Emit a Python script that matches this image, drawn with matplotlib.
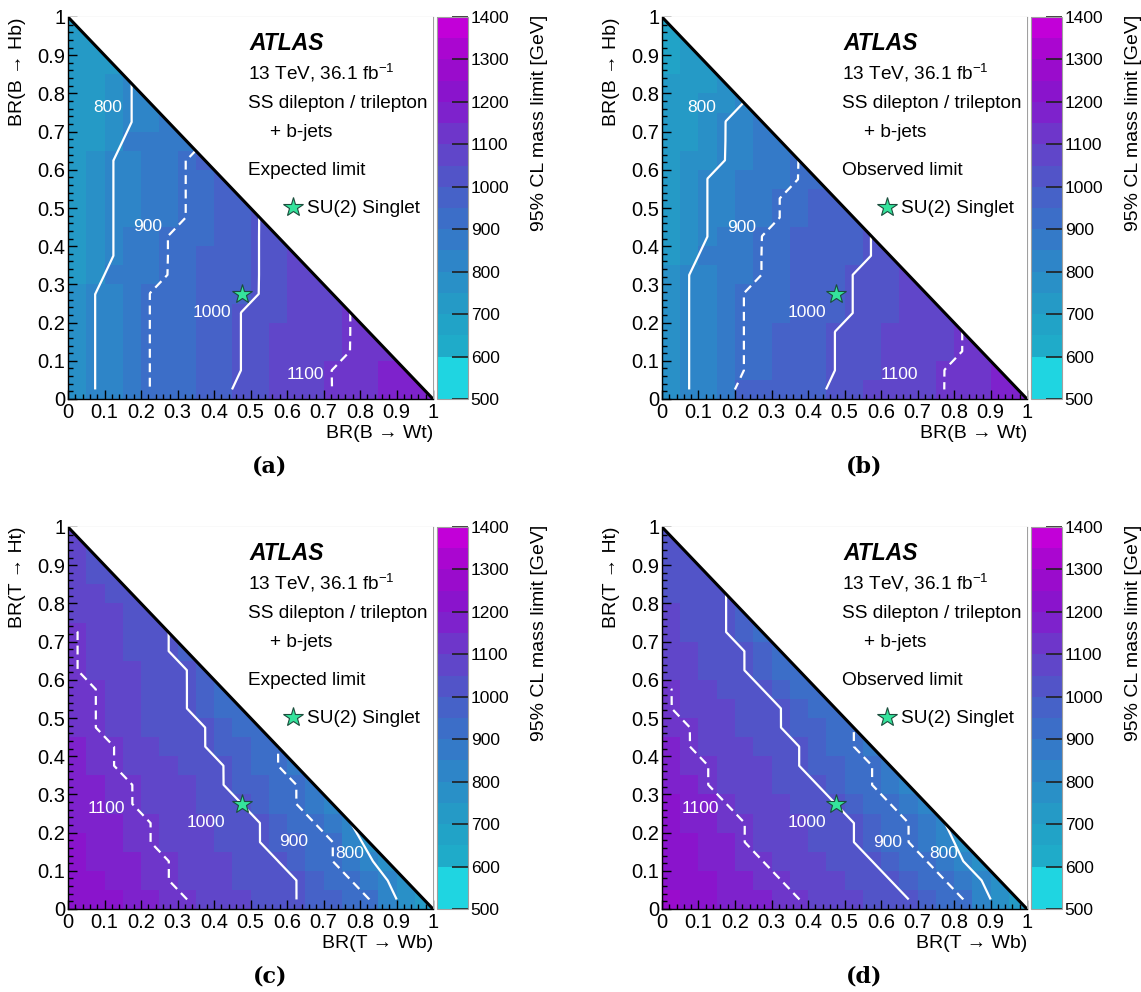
import numpy as np
import matplotlib
matplotlib.use('Agg')
import matplotlib.pyplot as plt
from matplotlib.colors import ListedColormap, BoundaryNorm
from matplotlib.ticker import MultipleLocator, FuncFormatter

plt.rcParams['font.family'] = ['Liberation Sans', 'DejaVu Sans']
plt.rcParams['mathtext.fontset'] = 'custom'
plt.rcParams['mathtext.rm'] = 'Liberation Sans'
plt.rcParams['lines.dashed_pattern'] = [4.0, 2.5]

# 20 x 20 bins in BR, only the triangle BR1 + BR2 <= 1 is filled
br_edges = np.linspace(0., 1., 21)
br_centers = 0.5*(br_edges[1:] + br_edges[:-1])
contour_levels = [800, 900, 1000, 1100]
singlet_point = (0.476, 0.274)

# palette of the mass-limit axis [GeV]
palette_edges = [500, 600, 650, 700, 750, 800, 850, 900, 950, 1000, 1050,
                 1100, 1150, 1200, 1250, 1300, 1350, 1400]
palette_colors = ['#1fd5e1', '#1fabc9', '#21a3c7', '#259ac6', '#2990c7', '#2e85c8',
                  '#347ac8', '#3c6ec8', '#4662c8', '#5254c8', '#6046c9', '#6e36ca',
                  '#7e22cc', '#8a14cc', '#9a0ccc', '#aa06d0', '#c200d8']

# rows: BR(->H) bins from 0 upwards; entries: BR(->W) bins from 0 up to the diagonal
limit_B_exp = [
  [760, 800, 840, 870, 900, 920, 940, 960, 980, 1020, 1040, 1055, 1070, 1085, 1100, 1120, 1140, 1150, 1160, 1170],
  [760, 800, 840, 870, 900, 920, 940, 960, 980, 1000, 1040, 1060, 1075, 1090, 1100, 1120, 1140, 1150, 1160],
  [760, 800, 840, 870, 900, 920, 940, 960, 980, 1000, 1030, 1050, 1065, 1080, 1090, 1100, 1120, 1140],
  [760, 800, 840, 870, 900, 920, 940, 960, 980, 1000, 1030, 1050, 1060, 1070, 1085, 1100, 1120],
  [760, 800, 840, 870, 900, 920, 940, 960, 980, 1000, 1030, 1045, 1060, 1070, 1085, 1100],
  [760, 800, 840, 870, 900, 920, 940, 960, 975, 990, 1000, 1030, 1050, 1065, 1080],
  [720, 750, 850, 870, 890, 900, 930, 950, 970, 985, 1000, 1030, 1050, 1065],
  [720, 760, 800, 850, 880, 900, 930, 950, 970, 985, 1000, 1030, 1050],
  [720, 760, 800, 850, 880, 900, 925, 945, 965, 985, 1000, 1030],
  [720, 760, 800, 840, 870, 890, 900, 930, 955, 980, 1000],
  [720, 760, 800, 840, 870, 890, 900, 930, 950, 970],
  [710, 760, 800, 840, 870, 890, 900, 930, 950],
  [710, 760, 800, 840, 870, 890, 900, 950],
  [700, 730, 750, 850, 860, 870, 850],
  [700, 730, 760, 800, 840, 860],
  [700, 720, 760, 800, 830],
  [700, 720, 760, 800],
  [700, 710, 740],
  [700, 710],
  [700],
]

limit_B_obs = [
  [760, 800, 820, 850, 950, 955, 960, 970, 980, 1020, 1040, 1050, 1060, 1070, 1085, 1100, 1120, 1140, 1150, 1160],
  [760, 800, 830, 860, 900, 930, 950, 965, 980, 1000, 1030, 1045, 1055, 1065, 1080, 1100, 1120, 1140, 1150],
  [760, 800, 830, 860, 900, 930, 950, 965, 980, 1000, 1030, 1045, 1055, 1065, 1075, 1090, 1100, 1130],
  [760, 800, 830, 860, 900, 930, 950, 965, 980, 1000, 1030, 1045, 1055, 1065, 1075, 1090, 1100],
  [760, 800, 830, 860, 900, 925, 945, 960, 975, 990, 1000, 1030, 1045, 1060, 1070, 1085],
  [760, 800, 830, 860, 900, 925, 945, 960, 975, 990, 1000, 1030, 1045, 1060, 1070],
  [750, 800, 830, 860, 890, 900, 930, 950, 970, 990, 1000, 1030, 1045, 1060],
  [720, 750, 850, 870, 890, 900, 930, 950, 965, 980, 990, 1000, 1030],
  [720, 760, 800, 850, 880, 900, 930, 950, 965, 980, 990, 1000],
  [720, 760, 800, 840, 870, 890, 900, 930, 950, 970, 985],
  [720, 760, 800, 840, 870, 890, 900, 930, 950, 970],
  [710, 760, 800, 840, 860, 875, 890, 900, 930],
  [710, 750, 790, 800, 840, 860, 880, 900],
  [700, 740, 780, 800, 830, 850, 870],
  [700, 730, 770, 800, 830, 850],
  [700, 720, 750, 790, 800],
  [700, 710, 740, 770],
  [690, 700, 730],
  [690, 700],
  [690],
]

limit_T_exp = [
  [1230, 1220, 1200, 1180, 1160, 1130, 1100, 1080, 1060, 1050, 1040, 1020, 1000, 975, 950, 925, 900, 825, 775, 720],
  [1220, 1200, 1180, 1160, 1130, 1100, 1080, 1065, 1050, 1040, 1030, 1015, 1000, 970, 940, 900, 860, 800, 760],
  [1210, 1190, 1170, 1150, 1125, 1100, 1080, 1065, 1050, 1035, 1020, 1000, 970, 935, 900, 850, 810, 760],
  [1200, 1180, 1160, 1130, 1100, 1080, 1065, 1050, 1035, 1020, 1000, 975, 950, 925, 900, 830, 780],
  [1190, 1170, 1150, 1125, 1100, 1080, 1065, 1050, 1035, 1020, 1000, 970, 935, 900, 860, 800],
  [1180, 1160, 1130, 1100, 1080, 1065, 1050, 1035, 1020, 1000, 975, 945, 900, 860, 820],
  [1170, 1150, 1125, 1100, 1080, 1065, 1050, 1025, 1000, 980, 960, 935, 900, 850],
  [1160, 1130, 1100, 1080, 1065, 1050, 1035, 1020, 1000, 970, 940, 900, 860],
  [1150, 1125, 1100, 1080, 1060, 1040, 1020, 1000, 975, 950, 925, 900],
  [1140, 1100, 1080, 1060, 1045, 1030, 1015, 1000, 970, 940, 910],
  [1130, 1100, 1080, 1060, 1040, 1020, 1000, 970, 940, 910],
  [1125, 1100, 1080, 1060, 1040, 1020, 1000, 970, 940],
  [1100, 1080, 1065, 1050, 1035, 1020, 1000, 960],
  [1100, 1080, 1060, 1040, 1025, 1000, 970],
  [1100, 1080, 1060, 1040, 1020, 1000],
  [1080, 1065, 1050, 1030, 1010],
  [1070, 1055, 1040, 1020],
  [1060, 1045, 1030],
  [1050, 1040],
  [1050],
]

limit_T_obs = [
  [1250, 1230, 1210, 1190, 1170, 1150, 1125, 1100, 1085, 1070, 1055, 1040, 1020, 1000, 970, 935, 900, 825, 775, 720],
  [1240, 1220, 1200, 1180, 1160, 1130, 1100, 1085, 1070, 1055, 1040, 1020, 1000, 970, 935, 900, 850, 800, 760],
  [1230, 1210, 1190, 1170, 1140, 1100, 1085, 1070, 1055, 1040, 1020, 1000, 970, 935, 900, 850, 800, 760],
  [1220, 1200, 1180, 1150, 1100, 1085, 1070, 1055, 1040, 1020, 1000, 970, 935, 900, 860, 825, 775],
  [1210, 1190, 1170, 1140, 1100, 1085, 1070, 1055, 1040, 1020, 1000, 970, 935, 900, 850, 800],
  [1200, 1180, 1150, 1100, 1085, 1070, 1055, 1040, 1020, 1000, 970, 935, 900, 860, 820],
  [1190, 1150, 1100, 1085, 1070, 1055, 1040, 1020, 1000, 970, 935, 900, 860, 820],
  [1180, 1140, 1100, 1085, 1070, 1050, 1025, 1000, 970, 950, 925, 900, 860],
  [1150, 1100, 1085, 1070, 1055, 1040, 1020, 1000, 970, 935, 900, 860],
  [1140, 1100, 1080, 1060, 1040, 1020, 1000, 975, 950, 925, 900],
  [1100, 1085, 1070, 1055, 1040, 1020, 1000, 970, 940, 910],
  [1100, 1080, 1060, 1040, 1020, 1000, 970, 940, 910],
  [1080, 1060, 1040, 1020, 1000, 970, 940, 910],
  [1070, 1050, 1035, 1020, 1000, 965, 930],
  [1060, 1040, 1020, 1000, 960, 930],
  [1050, 1030, 1015, 1000, 960],
  [1040, 1025, 1010, 1000],
  [1030, 1020, 1005],
  [1020, 1010],
  [1010],
]

# hand placed contour labels: (text, BR_W, BR_H)
labels_B_exp = [('800', 0.108, 0.764), ('900', 0.218, 0.451), ('1000', 0.395, 0.226), ('1100', 0.649, 0.063)]
labels_B_obs = [('800', 0.109, 0.763), ('900', 0.218, 0.450), ('1000', 0.396, 0.226), ('1100', 0.650, 0.065)]
labels_T_exp = [('1100', 0.104, 0.262), ('1000', 0.378, 0.227), ('900', 0.617, 0.176), ('800', 0.773, 0.146)]
labels_T_obs = [('1100', 0.104, 0.264), ('1000', 0.396, 0.226), ('900', 0.617, 0.175), ('800', 0.773, 0.146)]

W, H = 1141, 992
fig = plt.figure(figsize=(W/100., H/100.), dpi=100)
cmap = ListedColormap(palette_colors)
norm = BoundaryNorm(palette_edges, cmap.N)

def fxy(px, py):
  return px/float(W), 1. - py/float(H)

def to_grid(rows):
  z = np.full((len(br_centers), len(br_centers)), np.nan)
  for j, row in enumerate(rows):
    z[j, :len(row)] = row
  return np.ma.masked_invalid(z)

def drawPanel(left, top, rows, xlab, ylab, kind, labels, caption):
  aw, ah = 365, 382
  ax = fig.add_axes([left/float(W), 1.-(top+ah)/float(H), aw/float(W), ah/float(H)])
  z = to_grid(rows)
  mesh = ax.pcolormesh(br_edges, br_edges, z, cmap=cmap, norm=norm, zorder=1)
  # contours at the bin centres, solid / dashed alternating
  for lev, ls in zip(contour_levels, ['solid', 'dashed', 'solid', 'dashed']):
    ax.contour(br_centers, br_centers, z, levels=[lev-0.5], colors='white',
               linewidths=1.6, linestyles=ls, zorder=2)
  ax.fill([0., 1., 1.], [1., 1., 0.], color='white', zorder=3, lw=0)
  ax.plot([0., 1.], [1., 0.], color='black', lw=2.2, zorder=4, solid_capstyle='butt')
  for txt, x, y in labels:
    ax.text(x, y, txt, color='white', fontsize=12.5, ha='center', va='center', zorder=5)
  ax.plot(singlet_point[0], singlet_point[1], marker='*', ms=15, color='#35e39c',
          mec='#1b4d3c', mew=0.8, zorder=6, ls='none')
  ax.set_xlim(0, 1); ax.set_ylim(0, 1)
  fmt = FuncFormatter(lambda v, p: '%g' % round(v, 2))
  for a in (ax.xaxis, ax.yaxis):
    a.set_major_locator(MultipleLocator(0.1))
    a.set_minor_locator(MultipleLocator(0.02))
    a.set_major_formatter(fmt)
  ax.tick_params(which='both', direction='in', top=False, right=False, width=1.0, labelsize=14.5)
  ax.tick_params(which='major', length=6.5)
  ax.tick_params(which='minor', length=3.5)
  ax.tick_params(axis='y', pad=2)
  ax.tick_params(axis='x', pad=3)
  for s in ('top', 'right'):
    ax.spines[s].set_color('#a0a0a0'); ax.spines[s].set_linewidth(0.8)
  for s in ('left', 'bottom'):
    ax.spines[s].set_linewidth(1.0)
  ax.set_xlabel(xlab, fontsize=14, loc='right', va='top')
  ax.xaxis.set_label_coords(1.0, -26./ah)
  ax.set_ylabel(ylab, fontsize=14, loc='top')
  ax.yaxis.set_label_coords(-42./aw, 1.0)

  # palette axis
  cax = fig.add_axes([(left+aw+4)/float(W), 1.-(top+ah)/float(H), 31./W, ah/float(H)])
  cb = fig.colorbar(mesh, cax=cax, spacing='proportional', ticks=range(500, 1401, 100))
  cb.outline.set_edgecolor('#a0a0a0'); cb.outline.set_linewidth(0.8)
  cax.tick_params(direction='in', length=11.5, width=1.2, pad=2, labelsize=12.5, color='#202020')
  cax.minorticks_off()
  tx, ty = fxy(left+aw+107, top-2)
  fig.text(tx, ty, '95% CL mass limit [GeV]', rotation=90, ha='center', va='top', fontsize=14)

  # ATLAS block
  fig.text(*fxy(left+181, top+33), 'ATLAS', fontsize=16.5, fontweight='bold', style='italic')
  fig.text(*fxy(left+180, top+63), r'13 TeV, 36.1 fb$^{\mathregular{-1}}$', fontsize=13.7)
  fig.text(*fxy(left+180, top+91), 'SS dilepton / trilepton', fontsize=13.7)
  fig.text(*fxy(left+202, top+120), '+ b-jets', fontsize=13.7)
  fig.text(*fxy(left+180, top+158), kind, fontsize=13.7)
  ax.plot(225.3/aw, 1.-189.7/ah, marker='*', ms=15, color='#35e39c', mec='#1b4d3c',
          mew=0.8, transform=ax.transAxes, clip_on=False, ls='none', zorder=6)
  fig.text(*fxy(left+239, top+196), 'SU(2) Singlet', fontsize=13.7)

  fig.text(*fxy(left+202, top+450), caption, fontsize=16, fontweight='bold',
           family='DejaVu Serif', ha='center', va='center')
  return ax

drawPanel(68, 17, limit_B_exp, 'BR(B \u2192 Wt)', 'BR(B \u2192 Hb)',
          'Expected limit', labels_B_exp, '(a)')
drawPanel(662, 17, limit_B_obs, 'BR(B \u2192 Wt)', 'BR(B \u2192 Hb)',
          'Observed limit', labels_B_obs, '(b)')
drawPanel(68, 527, limit_T_exp, 'BR(T \u2192 Wb)', 'BR(T \u2192 Ht)',
          'Expected limit', labels_T_exp, '(c)')
drawPanel(662, 527, limit_T_obs, 'BR(T \u2192 Wb)', 'BR(T \u2192 Ht)',
          'Observed limit', labels_T_obs, '(d)')

fig.savefig('out.png', dpi=100)
